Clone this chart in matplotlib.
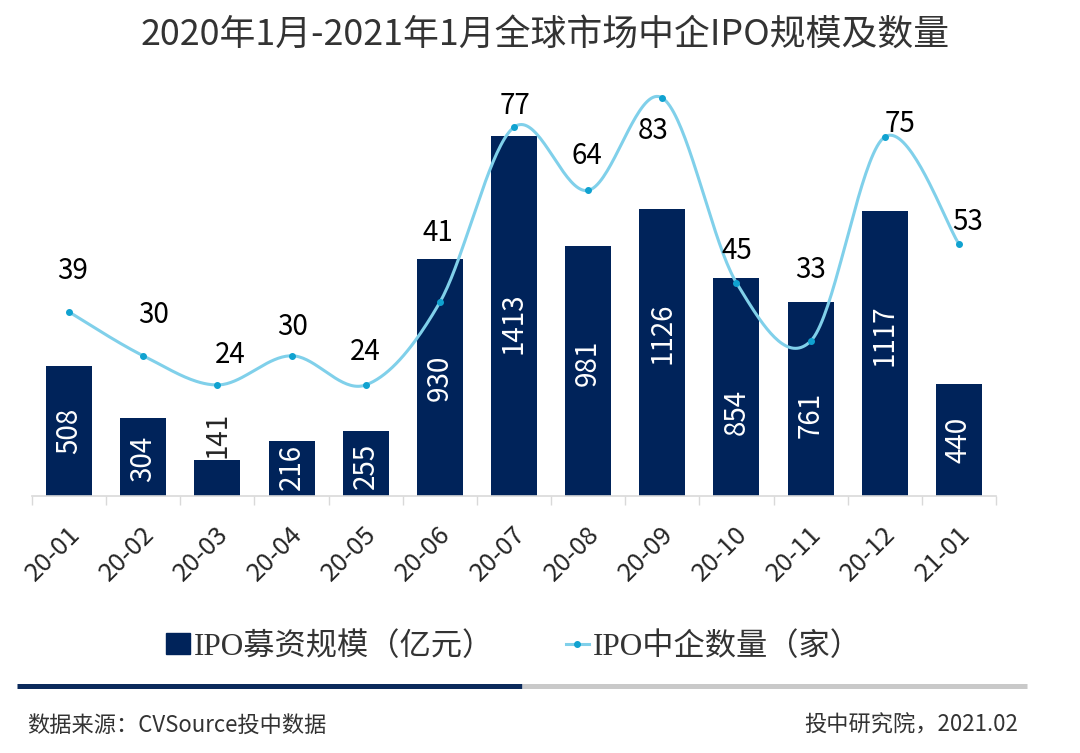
import numpy as np
import matplotlib
matplotlib.use("Agg")
import matplotlib.pyplot as plt
from matplotlib.lines import Line2D
from matplotlib.patches import Patch
from matplotlib.transforms import ScaledTranslation

plt.rcParams['font.family'] = ['Noto Sans CJK SC', 'DejaVu Sans']

# == DATA ==
months = ["20-01", "20-02", "20-03", "20-04", "20-05", "20-06", "20-07",
          "20-08", "20-09", "20-10", "20-11", "20-12", "21-01"]
ipo_amount = [508, 304, 141, 216, 255, 930, 1413, 981, 1126, 854, 761, 1117, 440]   # 亿元
ipo_count = [39, 30, 24, 30, 24, 41, 77, 64, 83, 45, 33, 75, 53]                     # 家

# label nudges, pixels (dx, dy) -- hand placed in the original
count_label_offsets = [(4, 41), (10, 41), (13, 30), (1, 29), (0, 33), (-2, 69), (1, 21),
                       (-1, 34), (-9, -33), (0, 32), (0, 71), (15, 13), (9, 22)]
amount_label_dy = [0, -2, 0, 2, -2, 0, -7, 8, 19, -25, -16, 18, 0]

# == STYLE ==
NAVY = "#00235A"
LINE_BLUE = "#80D0EA"
DOT_BLUE = "#10A2D0"
TEXT = "#262626"
GRID = "#D9D9D9"


def smooth_curve(x, y, n=40):
    # Excel-like smoothed line: cubic bezier, tangents from neighbours / 6
    p = np.column_stack([x, y]).astype(float)
    p_ext = np.vstack([p[0], p, p[-1]])
    t = np.linspace(0, 1, n)[:, None]
    segs = []
    for i in range(len(p) - 1):
        p0, p1, p2, p3 = p_ext[i], p_ext[i + 1], p_ext[i + 2], p_ext[i + 3]
        c1 = p1 + (p2 - p0) / 6
        c2 = p2 - (p3 - p1) / 6
        segs.append((1 - t) ** 3 * p1 + 3 * (1 - t) ** 2 * t * c1
                    + 3 * (1 - t) * t ** 2 * c2 + t ** 3 * p2)
    c = np.vstack(segs)
    return c[:, 0], c[:, 1]


fig = plt.figure(figsize=(10.8, 7.53), dpi=100)
ax = fig.add_axes([32 / 1080, 1 - 496 / 753, 964 / 1080, 408 / 753])
x = np.arange(len(months))

# -- bars --
ax.bar(x, ipo_amount, width=0.62, color=NAVY, zorder=2)
ax.set_ylim(0, 1600)
ax.set_xlim(-0.5, len(months) - 0.5)
px_per_unit = 408 / 1600
for i, v in enumerate(ipo_amount):
    if v * px_per_unit < 50:
        ax.annotate(str(v), (i, v), xytext=(0, 2), textcoords='offset pixels',
                    ha='center', va='bottom', rotation=90, fontsize=20, color=TEXT)
    else:
        ax.annotate(str(v), (i, v / 2), xytext=(0, amount_label_dy[i]),
                    textcoords='offset pixels', ha='center', va='center',
                    rotation=90, fontsize=20, color='white', zorder=3)

for s in ['top', 'left', 'right']:
    ax.spines[s].set_visible(False)
ax.spines['bottom'].set_color(GRID)
ax.spines['bottom'].set_linewidth(1.2)
ax.set_yticks([])
ax.set_xticks(np.arange(-0.5, len(months), 1.0))
ax.set_xticklabels([])
ax.tick_params(axis='x', which='major', length=6.5, color=GRID, width=1)
ax.set_xticks(x, minor=True)
ax.set_xticklabels(months, minor=True, rotation=45, ha='right', va='top',
                   rotation_mode='anchor', fontsize=18.5, color=TEXT)
ax.tick_params(axis='x', which='minor', length=0, pad=18)
for lab in ax.get_xticklabels(minor=True):
    lab.set_transform(lab.get_transform() + ScaledTranslation(-2 / 100, 0, fig.dpi_scale_trans))

# -- line (secondary axis) --
ax2 = ax.twinx()
ax2.set_ylim(1.17, 85.05)
ax2.set_yticks([])
for s in ax2.spines.values():
    s.set_visible(False)
sx, sy = smooth_curve(x, ipo_count)
ax2.plot(sx, sy, color=LINE_BLUE, lw=2.2, solid_capstyle='round', zorder=3)
ax2.plot(x, ipo_count, ls='none', marker='o', ms=4, color=DOT_BLUE, zorder=4)
for i, v in enumerate(ipo_count):
    dx, dy = count_label_offsets[i]
    ax2.annotate(str(v), (i, v), xytext=(dx, dy), textcoords='offset pixels',
                 ha='center', va='center', fontsize=20, color='black')

# -- title --
fig.text(0.505, 1 - 35 / 753, "2020年1月-2021年1月全球市场中企IPO规模及数量",
         ha='center', va='center', fontsize=25.8, color='#333333')

# -- legend --
handles = [Patch(facecolor=NAVY, edgecolor=NAVY),
           Line2D([0], [0], color=LINE_BLUE, lw=2.2, marker='o', ms=4,
                  markerfacecolor=DOT_BLUE, markeredgecolor=DOT_BLUE)]
fig.legend(handles, ["IPO募资规模（亿元）", "IPO中企数量（家）"],
           loc='center', bbox_to_anchor=(514 / 1080, 1 - 647 / 753), ncol=2,
           frameon=False, handlelength=0.75, handleheight=0.65, handletextpad=0.12,
           columnspacing=2.3, prop={'family': ['Liberation Serif', 'Noto Sans CJK SC'], 'size': 22.5},
           labelcolor='#333333')

# -- footer --
fig.add_artist(Line2D([17 / 1080, 522 / 1080], [1 - 686 / 753] * 2, color="#0B2A5B",
                      lw=3.6, solid_capstyle='butt'))
fig.add_artist(Line2D([522 / 1080, 1027 / 1080], [1 - 686 / 753] * 2, color="#C9C9C9",
                      lw=3.6, solid_capstyle='butt'))
fig.text(27 / 1080, 1 - 725 / 753, "数据来源：CVSource投中数据", ha='left', va='center',
         fontsize=16, color='#333333')
fig.text(1018 / 1080, 1 - 725 / 753, "投中研究院，2021.02", ha='right', va='center',
         fontsize=16, color='#333333')

fig.savefig("out.png", dpi=100)
